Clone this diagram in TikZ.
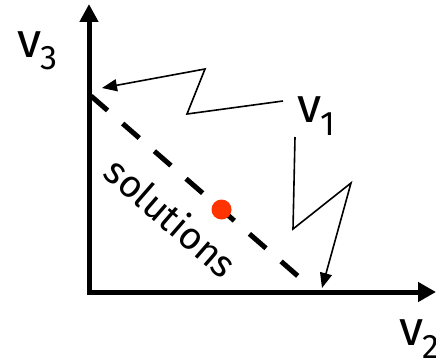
\documentclass[tikz,border=0pt]{standalone}
\usepackage{fontspec}
\setmainfont{Fira Sans}
\usetikzlibrary{arrows.meta}
\definecolor{dotred}{HTML}{FF3300}
\tikzset{
  axisline/.style={line width=5pt, line join=miter, {Triangle[length=18pt,width=18pt]}-{Triangle[length=18pt,width=19pt]}},
  solline/.style={line width=5pt, dash pattern=on 22pt off 20pt},
  zigline/.style={line width=1.6pt, line join=miter, -{Triangle[length=15pt,width=12pt]}},
  vlabel/.style={inner sep=0pt, anchor=base west, font=\fontsize{49}{49}\selectfont},
  sollabel/.style={inner sep=0pt, font=\fontsize{38}{38}\selectfont, rotate=-41},
}
\newcommand{\vsub}[1]{v\kern-1pt\raisebox{-13pt}{\fontsize{34}{34}\selectfont #1}}
\begin{document}
\begin{tikzpicture}[x=1pt,y=-1pt]
\useasboundingbox (0,0) rectangle (436,361);
% axes
\coordinate (ytip) at (89,4);
\coordinate (origin) at (89,292);
\coordinate (xtip) at (436,292);
\draw[axisline] (ytip) -- (origin) -- (xtip);
% solution line
\coordinate (sA) at (91,96);
\coordinate (sB) at (299,277);
\draw[solline] (sA) -- (sB);
\node[circle, fill=dotred, inner sep=0pt, minimum size=20pt] (dot) at (221.5,209.5) {};
\node[sollabel] (sol) at (171.5,217) {solutions};
% labels
\node[vlabel] (v3) at (17,57) {\vsub{3}};
\node[vlabel] (v1) at (297,122) {\vsub{1}};
\node[vlabel] (v2) at (399,345) {\vsub{2}};
% zigzag arrows
\coordinate (a0) at (283,101);
\coordinate (a1) at (187,114);
\coordinate (a2) at (205,69);
\coordinate (a3) at (102,88);
\draw[zigline] (a0) -- (a1) -- (a2) -- (a3);
\coordinate (b0) at (295,137);
\coordinate (b1) at (293,229);
\coordinate (b2) at (351,183);
\coordinate (b3) at (322,288);
\draw[zigline] (b0) -- (b1) -- (b2) -- (b3);
\end{tikzpicture}
\end{document}
